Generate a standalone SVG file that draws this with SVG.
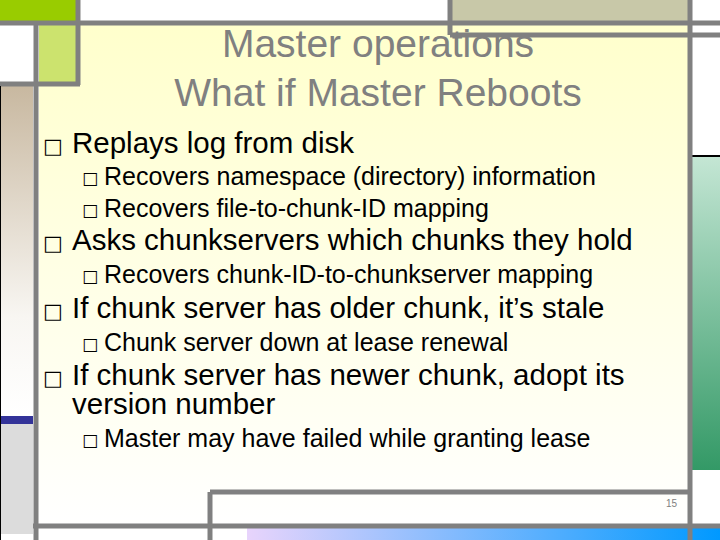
<svg xmlns="http://www.w3.org/2000/svg" width="720" height="540" viewBox="0 0 720 540">
<defs>
<linearGradient id="bg" x1="0" y1="0" x2="0" y2="1"><stop offset="0" stop-color="#ffffcc"/><stop offset="1" stop-color="#ffffff"/></linearGradient>
<linearGradient id="tan" x1="0" y1="0" x2="0" y2="1"><stop offset="0" stop-color="#c8b8a0"/><stop offset="0.7" stop-color="#f8f6f2"/><stop offset="1" stop-color="#ffffff"/></linearGradient>
<linearGradient id="grn" x1="0" y1="0" x2="0" y2="1"><stop offset="0" stop-color="#c4e6d4"/><stop offset="1" stop-color="#339966"/></linearGradient>
<linearGradient id="blu" x1="0" y1="0" x2="1" y2="0"><stop offset="0" stop-color="#e8d4fc"/><stop offset="1" stop-color="#0099ff"/></linearGradient>
<style>
.t{font-family:"Liberation Sans",Arial,sans-serif;fill:#808080;font-size:39px;text-anchor:middle}
.l1{font-family:"Liberation Sans",Arial,sans-serif;font-size:29.5px;fill:#000}
.l2{font-family:"Liberation Sans",Arial,sans-serif;font-size:25px;fill:#000}
.b{font-family:"DejaVu Sans",sans-serif;fill:#000}
.g{stroke:#808080;stroke-width:5;fill:none}
</style>
</defs>
<rect width="720" height="540" fill="#fff"/>
<rect x="39" y="25" width="650" height="502" fill="url(#bg)"/>
<rect x="0" y="86" width="33" height="330" fill="url(#tan)"/>
<rect x="0" y="416" width="33" height="8" fill="#333399"/>
<rect x="0" y="424" width="33" height="110" fill="#dcdcdc"/>
<rect x="0" y="0" width="78" height="22" fill="#99cc00"/>
<rect x="39" y="25" width="39" height="58" fill="#cce36e"/>
<rect x="450" y="0" width="238" height="22" fill="#c8c8a8"/>
<rect x="692" y="157" width="28" height="313" fill="url(#grn)"/>
<line x1="690" y1="156" x2="720" y2="156" stroke="#000" stroke-width="2"/>
<rect x="247" y="528" width="473" height="12" fill="url(#blu)"/>
<g class="g">
<line x1="0" y1="23" x2="720" y2="23"/>
<line x1="450" y1="35" x2="720" y2="35"/>
<line x1="450" y1="0" x2="450" y2="35"/>
<line x1="78" y1="0" x2="78" y2="85"/>
<line x1="0" y1="84" x2="80" y2="84"/>
<line x1="36" y1="23" x2="36" y2="540"/>
<line x1="690" y1="0" x2="690" y2="540"/>
<line x1="33" y1="526" x2="720" y2="526"/>
<line x1="210" y1="492" x2="690" y2="492"/>
<line x1="210" y1="492" x2="210" y2="540"/>
</g>
<line x1="0.5" y1="86" x2="0.5" y2="540" stroke="#000" stroke-width="1"/>
<g id="title">
<text class="t" x="378" y="57">Master operations</text>
<text class="t" x="378" y="106">What if Master Reboots</text>
</g>
<g id="body">
<text class="b" x="43" y="153" font-size="21">□</text><text class="l1" x="72" y="153">Replays log from disk</text>
<text class="b" x="82" y="184" font-size="17">□</text><text class="l2" x="104" y="185">Recovers namespace (directory) information</text>
<text class="b" x="82" y="216" font-size="17">□</text><text class="l2" x="104" y="217">Recovers file-to-chunk-ID mapping</text>
<text class="b" x="43" y="250" font-size="21">□</text><text class="l1" x="72" y="250">Asks chunkservers which chunks they hold</text>
<text class="b" x="82" y="282" font-size="17">□</text><text class="l2" x="104" y="283">Recovers chunk-ID-to-chunkserver mapping</text>
<text class="b" x="43" y="318" font-size="21">□</text><text class="l1" x="72" y="318">If chunk server has older chunk, it’s stale</text>
<text class="b" x="82" y="350" font-size="17">□</text><text class="l2" x="104" y="351">Chunk server down at lease renewal</text>
<text class="b" x="43" y="385" font-size="21">□</text><text class="l1" x="72" y="385">If chunk server has newer chunk, adopt its</text>
<text class="l1" x="72" y="414">version number</text>
<text class="b" x="82" y="446" font-size="17">□</text><text class="l2" x="104" y="447">Master may have failed while granting lease</text>
</g>
<text x="677" y="507" font-family="Liberation Sans,sans-serif" font-size="10" fill="#808080" text-anchor="end">15</text>
</svg>
